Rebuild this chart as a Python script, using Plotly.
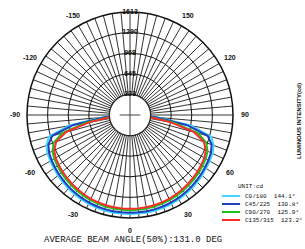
import numpy as np
import plotly.graph_objects as go

# ---- data ----
gamma_deg = [0, 5, 10, 15, 20, 25, 30, 35, 40, 45, 50, 55, 60, 65, 70, 75, 80, 85, 90]
c0_180 = [1550, 1550, 1550, 1547, 1543, 1535, 1527, 1515, 1503, 1488, 1472, 1456, 1441, 1425, 1394, 1315, 971, 420, 125]
c45_225 = [1530, 1530, 1529, 1526, 1521, 1513, 1504, 1492, 1480, 1465, 1450, 1434, 1418, 1398, 1360, 1260, 900, 380, 110]
c90_270 = [1490, 1490, 1488, 1484, 1478, 1470, 1460, 1448, 1434, 1420, 1404, 1388, 1370, 1340, 1270, 1100, 700, 300, 90]
c135_315 = [1470, 1470, 1468, 1464, 1457, 1448, 1437, 1424, 1410, 1395, 1380, 1362, 1344, 1310, 1230, 1040, 640, 270, 80]
plane_names = ["C0/180", "C45/225", "C90/270", "C135/315"]
beam_angles = ["144.1°", "130.8°", "125.9°", "123.2°"]
radial_ticks = [323, 645, 968, 1290, 1613]
radial_labels = ["323", "645", "968", "1290", "1613"]
r_max = 1613
angle_ticks = [0, 30, 60, 90, 120, 150, -150, -120, -90, -60, -30]
angle_labels = ["0", "30", "60", "90", "120", "150", "-150", "-120", "-90", "-60", "-30"]
avg_text = "AVERAGE BEAM ANGLE(50%):131.0 DEG"
unit_text = "UNIT:cd"
axis_title = "LUMINOUS INTENSITY(cd)"

colors = ["#3fd6ff", "#1f3fc0", "#19c419", "#ff2a2a"]

W, H = 305, 249


def px(x):
    return x / W


def py(y):
    return 1 - y / H


# polar geometry in window pixels
CX, CY, RAD = 130, 115, 103


def full_plane(profile):
    th = [-g for g in gamma_deg[::-1]] + gamma_deg[1:]
    rr = profile[::-1] + profile[1:]
    return th, rr


fig = go.Figure()
for name, prof, col in zip(plane_names, [c0_180, c45_225, c90_270, c135_315], colors):
    th, rr = full_plane(prof)
    fig.add_trace(go.Scatterpolar(theta=th, r=rr, mode="lines",
                                  line=dict(color=col, width=2),
                                  name=name, showlegend=False))

# white centre disk with cross
ring_t = list(range(0, 361, 5))
fig.add_trace(go.Scatterpolar(theta=ring_t, r=[radial_ticks[0]] * len(ring_t),
                              mode="lines", fill="toself", fillcolor="white",
                              line=dict(color="#222", width=1.2), showlegend=False,
                              hoverinfo="skip"))
fig.add_trace(go.Scatterpolar(theta=[0, 0, 180], r=[radial_ticks[0], 0, radial_ticks[0]],
                              mode="lines", line=dict(color="#444", width=1),
                              showlegend=False, hoverinfo="skip"))
fig.add_trace(go.Scatterpolar(theta=[90, 0, 270], r=[radial_ticks[0] * 0.5, 0, radial_ticks[0] * 0.5],
                              mode="lines", line=dict(color="#444", width=1),
                              showlegend=False, hoverinfo="skip"))

# radial labels along the top axis
fig.add_trace(go.Scatterpolar(theta=[180] * len(radial_ticks), r=radial_ticks,
                              mode="text", text=radial_labels,
                              textfont=dict(size=7, color="#111", family="Liberation Sans", weight="bold"),
                              showlegend=False, hoverinfo="skip"))

tickvals = list(range(0, 360, 5))

fig.update_layout(
    width=W, height=H,
    margin=dict(l=0, r=0, t=0, b=0),
    paper_bgcolor="white", plot_bgcolor="white",
    font=dict(family="Liberation Sans", size=7, color="#111"),
    showlegend=False,
    polar=dict(
        domain=dict(x=[px(CX - RAD), px(CX + RAD)], y=[py(CY + RAD), py(CY - RAD)]),
        bgcolor="white",
        radialaxis=dict(range=[0, r_max], tickvals=radial_ticks, showticklabels=False,
                        ticks="", showline=False, gridcolor="#111", gridwidth=1.4),
        angularaxis=dict(rotation=270, direction="counterclockwise",
                         tickvals=tickvals, showticklabels=False, ticks="",
                         showline=True, linecolor="#111", linewidth=1.5,
                         gridcolor="#333", gridwidth=1),
    ),
)

# angular tick labels just outside the circle
LAB_R = RAD + 12
for a, t in zip(angle_ticks, angle_labels):
    ang = np.deg2rad(a)
    fig.add_annotation(text=t, x=px(CX + LAB_R * np.sin(ang)), y=py(CY + LAB_R * np.cos(ang)),
                       xref="paper", yref="paper", showarrow=False,
                       xanchor="center", yanchor="middle",
                       font=dict(size=7, family="Liberation Sans", color="#111", weight="bold"))

# manual legend
leg_x0, leg_x1, leg_tx = 222, 240, 243
leg_y = [196, 204, 212, 220]
fig.add_annotation(text=unit_text, x=px(236), y=py(186), xref="paper", yref="paper",
                   showarrow=False, xanchor="left", yanchor="middle",
                   font=dict(size=6, family="Liberation Mono", color="#111"))
for name, ba, col, yy in zip(plane_names, beam_angles, colors, leg_y):
    fig.add_shape(type="line", xref="paper", yref="paper",
                  x0=px(leg_x0), x1=px(leg_x1), y0=py(yy), y1=py(yy),
                  line=dict(color=col, width=2))
    fig.add_annotation(text=f"{name}  {ba}", x=px(leg_tx), y=py(yy),
                       xref="paper", yref="paper", showarrow=False,
                       xanchor="left", yanchor="middle",
                       font=dict(size=6, family="Liberation Mono", color="#111"))

fig.add_annotation(text=avg_text, x=px(133), y=py(240), xref="paper", yref="paper",
                   showarrow=False, font=dict(size=9, family="Liberation Mono", color="#111"),
                   xanchor="center", yanchor="middle")
fig.add_annotation(text=axis_title, x=px(299), y=py(121), xref="paper", yref="paper",
                   showarrow=False, textangle=-90,
                   font=dict(size=6, family="Liberation Sans", color="#111", weight="bold"),
                   xanchor="center", yanchor="middle")

fig.write_html("out.html", config={"displayModeBar": False},
               post_script="document.body.style.margin='0';document.body.style.overflow='hidden';")
